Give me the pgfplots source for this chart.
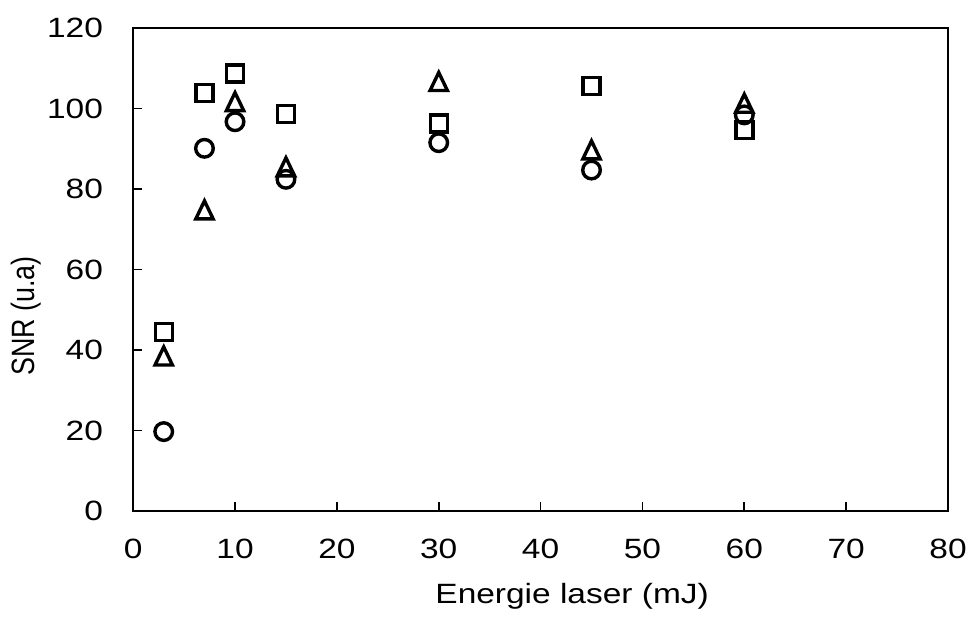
\documentclass[border=0pt]{standalone}
\usepackage{pgfplots}
\pgfplotsset{compat=1.18}
\usepackage{fontspec}
\setmainfont{Liberation Sans}
\begin{document}
\fontsize{28}{33}\selectfont
\begin{tikzpicture}
\begin{axis}[
  scale only axis,
  width=815bp, height=483bp,
  xmin=0, xmax=80, ymin=0, ymax=120,
  xtick={0,10,...,80}, ytick={0,20,...,120},
  tick align=inside,
  xtick pos=lower, ytick pos=left,
  major tick length=9bp,
  axis line style={line width=1.8bp},
  every tick/.style={black, line width=1.8bp},
  /pgf/number format/assume math mode=true,
  every tick label/.append style={font=\fontsize{28}{33}\selectfont, xscale=1.2, inner sep=0pt},
  xticklabel shift=28bp,
  yticklabel shift=30bp,
  every axis x label/.style={at={(axis description cs:0.5387,-0.176)}, anchor=center, xscale=1.2, font=\fontsize{28}{33}\selectfont},
  every axis y label/.style={at={(axis description cs:-0.1313,0.4037)}, anchor=center, xscale=1.2, rotate=90, font=\fontsize{27}{32}\selectfont},
  xlabel={Energie laser (mJ)},
  ylabel={SNR (u.a)},
  only marks,
  clip=false,
]
\addplot[black, line width=3.4bp, mark=square, mark size=8.5bp, mark options={line width=3.4bp}] coordinates {
  (3,44.4) (7,103.9) (10,108.7) (15,98.6) (30,96.3) (45,105.6) (60,94.7)
};
\addplot[black, line width=3.4bp, mark=triangle, mark size=10bp, mark options={line width=3.4bp, yshift=-3bp, yscale=1.2}] coordinates {
  (3,38.5) (7,74.8) (10,101.7) (15,85.5) (30,106.7) (45,89.7) (60,101.3)
};
\addplot[black, line width=3.4bp, mark=o, mark size=8.8bp, mark options={line width=3.4bp}] coordinates {
  (3,19.7) (7,90.1) (10,96.7) (15,82.4) (30,91.5) (45,84.7) (60,98.4)
};
\end{axis}
\path (current axis.south west) ++(-133bp,-101bp) coordinate (bbA);
\path (current axis.north east) ++(20bp,28bp) coordinate (bbB);
\path (bbA) rectangle (bbB);
\end{tikzpicture}
\end{document}
